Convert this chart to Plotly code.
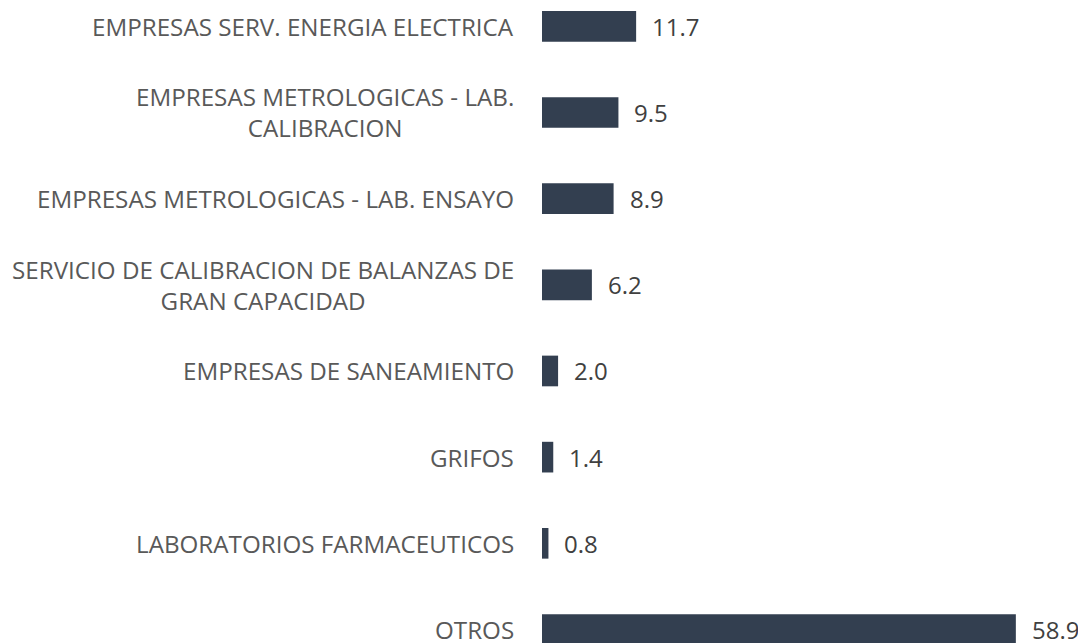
import plotly.graph_objects as go

categories = [
    "EMPRESAS SERV. ENERGIA ELECTRICA",
    "EMPRESAS METROLOGICAS - LAB. CALIBRACION",
    "EMPRESAS METROLOGICAS - LAB. ENSAYO",
    "SERVICIO DE CALIBRACION DE BALANZAS DE GRAN CAPACIDAD",
    "EMPRESAS DE SANEAMIENTO",
    "GRIFOS",
    "LABORATORIOS FARMACEUTICOS",
    "OTROS",
]
label_text = [
    "EMPRESAS SERV. ENERGIA ELECTRICA",
    "EMPRESAS METROLOGICAS - LAB.<br>CALIBRACION",
    "EMPRESAS METROLOGICAS - LAB. ENSAYO",
    "SERVICIO DE CALIBRACION DE BALANZAS DE<br>GRAN CAPACIDAD",
    "EMPRESAS DE SANEAMIENTO",
    "GRIFOS",
    "LABORATORIOS FARMACEUTICOS",
    "OTROS",
]
values = [11.7, 9.5, 8.9, 6.2, 2.0, 1.4, 0.8, 58.9]

BAR_COLOR = "#333F50"
FONT = "Open Sans"

fig = go.Figure()
fig.add_trace(go.Bar(
    x=values,
    y=categories,
    orientation="h",
    width=0.356,
    marker=dict(color=BAR_COLOR, line=dict(width=0)),
    hoverinfo="skip",
))

annotations = []
for cat, lab in zip(categories, label_text):
    annotations.append(dict(
        x=0, y=cat, xref="x", yref="y", text=lab, showarrow=False,
        xanchor="right", yanchor="middle", align="center", xshift=-26,
        font=dict(family=FONT, size=24.2, color="#595959"),
    ))
for cat, v in zip(categories, values):
    annotations.append(dict(
        x=v, y=cat, xref="x", yref="y", text=f"{v:.1f}", showarrow=False,
        xanchor="left", yanchor="middle", xshift=14,
        font=dict(family=FONT, size=24, color="#404040"),
    ))

fig.update_layout(
    width=1078, height=635,
    margin=dict(l=534, r=0, t=0, b=0),
    paper_bgcolor="white", plot_bgcolor="white",
    showlegend=False,
    font=dict(family=FONT),
    xaxis=dict(range=[0, 544 / 8.045], visible=False, fixedrange=True),
    yaxis=dict(type="category", categoryorder="array", categoryarray=categories,
               range=[7.157, -0.2124], visible=False, fixedrange=True),
    annotations=annotations,
)

fig.write_html("out.html")
